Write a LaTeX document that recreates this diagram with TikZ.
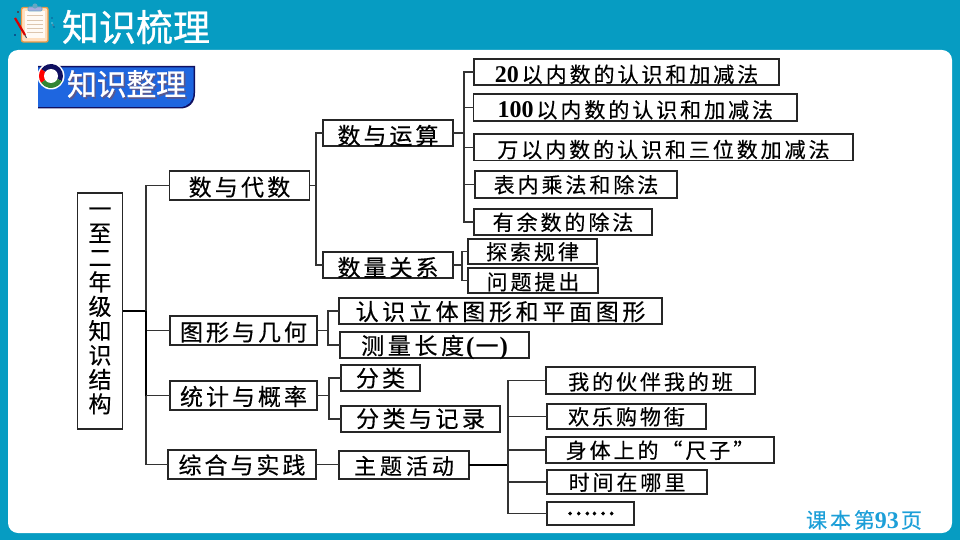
\documentclass[tikz,border=0pt]{standalone}
\usepackage{fontspec}
\newfontfamily\cjk[FakeBold=0.35]{Noto Sans CJK SC}
\newfontfamily\cjkh[FakeBold=0.8]{Noto Sans CJK SC}
\newfontfamily\cjkd[FakeBold=2.5]{Noto Sans CJK SC}
\newfontfamily\numf{Liberation Serif}[BoldFont={Liberation Serif Bold}]
\definecolor{teal1}{HTML}{069CC2}
\definecolor{blue1}{HTML}{1E66E0}
\definecolor{navy1}{HTML}{101060}
\definecolor{pageblue}{HTML}{1C9FD8}
\newcommand\txt[3]{{\fontsize{#1}{#1}\cjk\addfontfeature{LetterSpace=#2}#3}}
\newcommand\htxt[3]{{\fontsize{#1}{#1}\cjkh\addfontfeature{LetterSpace=#2}#3}}
\newcommand\num[2]{{\fontsize{#1}{#1}\numf\bfseries #2}}
\newcommand\dn[2]{\raisebox{-#1pt}{#2}}
\newcommand\bx[6]{\node[boxnode,minimum width={(#4-#2)*1pt},minimum height={(#5-#3)*1pt}] (#1) at ({(#2+#4)/2},{-(#3+#5)/2}) {\raisebox{-8.3pt}[0pt][0pt]{#6}};}
\tikzset{
  x=1pt,y=1pt,
  boxnode/.style={draw=black!85,line width=1.2pt,fill=white,inner sep=0pt,outer sep=0pt,text=black},
  link/.style={draw=black!80,line width=1.2pt},
  thick link/.style={draw=black,line width=2pt}
}
\begin{document}
\begin{tikzpicture}
\useasboundingbox (0,0) rectangle (960,-540);
\fill[teal1] (0,0) rectangle (960,-540);
\fill[white,rounded corners=10pt] (8,-50) rectangle (952,-533);
% header icon
\fill[black!60!red] (18,-12) circle (0.8);
\fill[navy1] (52,-18) circle (0.7);
\fill[navy1] (54,-27) circle (0.7);
\fill[white] (52,-23) circle (0.7);
\fill[red!70] (53,-25) circle (0.6);
\fill[navy1] (15,-35) circle (0.8);
\draw[fill=orange!25!white,draw=orange!60!brown!80,line width=1.4pt,rounded corners=2pt] (21.5,-7.5) rectangle (48,-42);
\fill[orange!4!white] (25,-11) rectangle (45,-38);
\foreach \yy in {15,20,24,28,32}{\draw[orange!40!gray!45,line width=.9pt] (27,-\yy) -- (43,-\yy);}
\draw[fill=cyan!25!blue!35,draw=cyan!50!gray,line width=.6pt,rounded corners=1pt] (28,-7) rectangle (42,-11);
\fill[cyan!50!gray] (35,-6) circle (2.6);
\draw[red!85!black,line width=2.2pt] (15,-18) -- (25,-35);
\draw[black!70,line width=1pt] (25,-35) -- (26.5,-38);
% header title
\node[text=white,inner sep=0pt,anchor=center] (title) at (136,-27) {\htxt{37}{0}{知识梳理}};
% section tag
\fill[navy1] (38,-66) -- (195,-66) -- (195,-93) .. controls (195,-103) and (189,-108.5) .. (180,-108.5) -- (38,-108.5) -- cycle;
\fill[blue1] (38,-67.5) -- (193.5,-67.5) -- (193.5,-93) .. controls (193.5,-101) and (188,-107) .. (180,-107) -- (38,-107) -- cycle;
\fill[white] (51,-76) circle (13.5);
\fill[navy1] (51,-76) -- ++(-25:12) arc (-25:145:12) -- cycle;
\fill[red] (51,-76) -- ++(145:12) arc (145:215:12) -- cycle;
\fill[green!40!black!80] (51,-76) -- ++(215:12) arc (215:335:12) -- cycle;
\fill[white] (51,-76) circle (7);
\node[text=navy1!70,inner sep=0pt] (tagshadow) at (128,-85.8) {\htxt{30}{-1}{知识整理}};
\node[text=white,inner sep=0pt] (tag) at (126.5,-84) {\htxt{30}{-1}{知识整理}};
% nodes
\node[boxnode,minimum width=45pt,minimum height=236pt,align=center,font=\fontsize{23}{24.4}\selectfont\cjk] (root) at (100,-311) {一\\至\\二\\年\\级\\知\\识\\结\\构};
\bx{a}{169.5}{171}{309.5}{200}{\dn{2}{\txt{23}{14}{数与代数}}}
\bx{b}{170}{316}{317}{345}{\dn{2}{\txt{23}{13}{图形与几何}}}
\bx{c}{170}{381}{317}{410}{\dn{1.5}{\txt{23}{13}{统计与概率}}}
\bx{d}{168}{450}{316}{479}{\dn{1}{\txt{23}{13}{综合与实践}}}
\bx{a1}{323}{120}{453}{146}{\dn{3}{\txt{23}{13}{数与运算}}}
\bx{a2}{323}{252}{453}{278}{\dn{3}{\txt{23}{13}{数量关系}}}
\bx{a11}{474}{59}{779}{85}{\dn{2}{\txt{21}{14}{\num{24}{20}\kern3pt 以内数的认识和加减法}}}
\bx{a12}{473.5}{94}{797}{121}{\dn{2}{\txt{21}{14}{\num{24}{100}\kern3pt 以内数的认识和加减法}}}
\bx{a13}{474}{134}{853}{160.5}{\dn{2}{\txt{21}{14}{万以内数的认识和三位数加减法}}}
\bx{a14}{475}{171}{677}{198}{\txt{21}{14}{表内乘法和除法}}
\bx{a15}{474}{209}{652}{235}{\txt{21}{14}{有余数的除法}}
\bx{a21}{468}{239}{597}{264}{\txt{21}{14}{探索规律}}
\bx{a22}{468}{268}{598}{293}{\dn{1}{\txt{21}{14}{问题提出}}}
\bx{b1}{339}{298}{662}{324}{\dn{1}{\txt{23}{16}{认识立体图形和平面图形}}}
\bx{b2}{340}{332}{529}{358}{\dn{1}{\txt{23}{16}{测量长度}\kern2pt\num{25}{(}\kern1pt\txt{23}{0}{一}\kern1pt\num{25}{)}}}
\bx{c1}{341}{365}{420}{391}{\dn{0.5}{\txt{23}{14}{分类}}}
\bx{c2}{341}{406}{500}{432}{\txt{23}{15}{分类与记录}}
\bx{d1}{339}{451}{469}{479}{\dn{1}{\txt{22}{18}{主题活动}}}
\bx{e1}{546}{367}{755}{394}{\dn{1}{\txt{21}{14}{我的伙伴我的班}}}
\bx{e2}{547}{404}{706}{429}{\txt{21}{14}{欢乐购物街}}
\bx{e3}{546}{437}{774}{463}{\txt{21}{14}{身体上的“尺子”}}
\bx{e4}{547}{470}{707}{494}{\txt{21}{14}{时间在哪里}}
\bx{e5}{547}{502}{634}{525}{\raisebox{7pt}{\fontsize{23}{23}\cjkd ……}}
\node[text=pageblue,inner sep=0pt] (page) at (864,-520) {\txt{21}{14}{课本第\num{24}{93}\kern2pt 页}};
% junctions
\coordinate (j0) at (146,-311);
\coordinate (ja) at (316,-185.5);
\coordinate (ja1) at (464,-133);
\coordinate (ja2) at (462,-265);
\coordinate (jb) at (328,-330.5);
\coordinate (jc) at (329,-395.5);
\coordinate (jd) at (508,-465);
% connectors
\draw[thick link] (root.east |- j0) -- (j0);
\draw[link] (j0) |- (a.west);
\draw[link] (j0) -- (j0 |- b.west) -- (b.west);
\draw[thick link] (j0) -- (j0 |- c.west);
\draw[link] (j0 |- c.west) -- (c.west);
\draw[link] (j0 |- c.west) |- (d.west);
\draw[link] (a.east) -- (ja);
\draw[link] (ja) |- (a1.west);
\draw[link] (ja) |- (a2.west);
\draw[link] (a1.east) -- (ja1);
\foreach \n in {a11,a12,a13,a14,a15}{\draw[link] (ja1) |- (\n.west);}
\draw[link] (a2.east) -- (ja2);
\foreach \n in {a21,a22}{\draw[link] (ja2) |- (\n.west);}
\draw[link] (b.east) -- (jb);
\foreach \n in {b1,b2}{\draw[link] (jb) |- (\n.west);}
\draw[link] (c.east) -- (jc);
\foreach \n in {c1,c2}{\draw[link] (jc) |- (\n.west);}
\draw[link] (d.east) -- (d.east -| d1.west);
\draw[thick link] (d1.east) -- (jd);
\foreach \n in {e1,e2,e3,e4,e5}{\draw[link] (jd) |- (\n.west);}
\end{tikzpicture}
\end{document}
